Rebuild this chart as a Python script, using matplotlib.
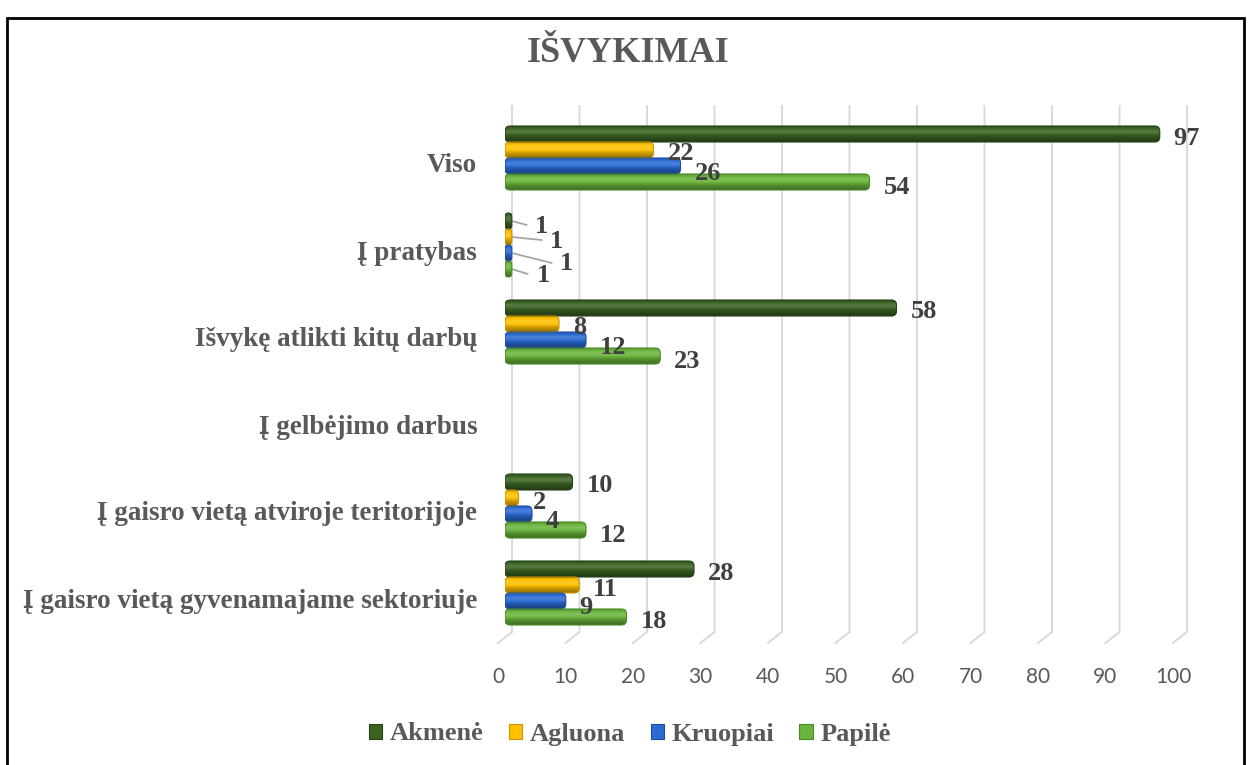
import matplotlib
matplotlib.use("Agg")
import matplotlib.pyplot as plt
import numpy as np
from matplotlib.patches import Rectangle, Patch, FancyBboxPatch
from matplotlib.transforms import ScaledTranslation
from matplotlib.colors import to_rgb

# ---------------- data ----------------
categories = [
    "Į gaisro vietą gyvenamajame sektoriuje",
    "Į gaisro vietą atviroje teritorijoje",
    "Į gelbėjimo darbus",
    "Išvykę atlikti kitų darbų",
    "Į pratybas",
    "Viso",
]
series_names = ["Akmenė", "Agluona", "Kruopiai", "Papilė"]
akmene = [28, 10, 0, 58, 1, 97]
agluona = [11, 2, 0, 8, 1, 22]
kruopiai = [9, 4, 0, 12, 1, 26]
papile = [18, 12, 0, 23, 1, 54]
x_ticks = [0, 10, 20, 30, 40, 50, 60, 70, 80, 90, 100]
title = "IŠVYKIMAI"

# ---------------- style ----------------
series_values = [akmene, agluona, kruopiai, papile]
colors = ["#3a6322", "#ffc000", "#2a6ad2", "#6ab43c"]
edge_colors = ["#25401a", "#c89400", "#1d4c9c", "#4a8a2a"]
SERIF = "Liberation Serif"
GRAY = "#595959"
LABEL_GRAY = "#404040"

fig = plt.figure(figsize=(12.5, 7.65), dpi=100)
W, H = 1250, 765
ax = fig.add_axes([505 / W, 1 - 643 / H, 675 / W, (643 - 106) / H])

px_per_cat = 87.0
px_per_unit = 6.75
ytop = (593 - 106) / px_per_cat
ybot = -(643 - 593) / px_per_cat
yvert = -(632 - 593) / px_per_cat
ax.set_xlim(0, 100)
ax.set_ylim(ybot, ytop)

# pseudo-3D gridlines (back wall + floor slant)
depth = 7 / px_per_unit
for v in x_ticks:
    ax.plot([v + depth, v + depth, v - depth], [ytop, yvert, ybot],
            color="#d9d9d9", lw=1.4, zorder=0, clip_on=False,
            solid_joinstyle="miter")

bar_h = 16 / px_per_cat
offsets = [1.5 * bar_h, 0.5 * bar_h, -0.5 * bar_h, -1.5 * bar_h]
ypos = np.arange(len(categories))


def gradient(base, n=64):
    rgb = np.array(to_rgb(base))
    t = np.linspace(0, 1, n)
    f = 0.82 + 0.35 * np.exp(-((t - 0.35) / 0.25) ** 2) - 0.22 * t ** 3
    out = np.zeros((n, 1, 4))
    for i, fi in enumerate(f):
        if fi >= 1:
            c = rgb + (1 - rgb) * (fi - 1) * 0.9
        else:
            c = rgb * fi
        out[i, 0, :3] = np.clip(c, 0, 1)
        out[i, 0, 3] = 1
    return out


aspect = px_per_unit / px_per_cat
radius_px = 5.0
for s, vals in enumerate(series_values):
    yy = ypos + offsets[s]
    bars = ax.barh(yy, vals, height=bar_h, color=colors[s], edgecolor="none",
                   zorder=2)
    g = gradient(colors[s])
    for b, v in zip(bars, vals):
        b.set_visible(False)
        if v <= 0:
            continue
        x0, y0, w, h = b.get_x(), b.get_y(), b.get_width(), b.get_height()
        r = min(radius_px / px_per_unit, w / 2)
        rb = FancyBboxPatch((x0, y0), w, h,
                            boxstyle=f"round,pad=0,rounding_size={r}",
                            mutation_aspect=aspect, facecolor="none",
                            edgecolor=edge_colors[s], lw=0.8, zorder=4)
        ax.add_patch(rb)
        im = ax.imshow(g, extent=(x0, x0 + w, y0, y0 + h),
                       origin="upper", aspect="auto", zorder=3,
                       interpolation="bicubic")
        im.set_clip_path(rb)

ax.set_xlim(0, 100)
ax.set_ylim(ybot, ytop)

# value labels
label_dy = [-4, -4, -7, -5]  # pixels (negative = downwards)
small_offsets = [(23, -5), (38, -5), (48, -10), (25, -6)]
small_lines = [(15, -4), (30, -3), (40, -10), (16, -5)]
for s, vals in enumerate(series_values):
    for i, v in enumerate(vals):
        if v <= 0:
            continue
        y = ypos[i] + offsets[s]
        if v <= 1:
            dx, dy = small_offsets[s]
            lx, ly = small_lines[s]
            ax.annotate("", xy=(v, y), xycoords="data",
                        xytext=(lx, ly), textcoords="offset pixels",
                        arrowprops=dict(arrowstyle="-", color="#a6a6a6",
                                        lw=1.3, shrinkA=0, shrinkB=0))
            ax.annotate(str(v), xy=(v, y), xytext=(dx, dy),
                        textcoords="offset pixels", ha="left", va="center",
                        fontsize=19, fontweight="bold", family=SERIF,
                        color=LABEL_GRAY, zorder=6)
        else:
            ax.annotate(str(v), xy=(v, y), xytext=(14, label_dy[s]),
                        textcoords="offset pixels", ha="left", va="center",
                        fontsize=19, fontweight="bold", family=SERIF,
                        color=LABEL_GRAY, zorder=6)

# axes styling
for sp in ax.spines.values():
    sp.set_visible(False)
ax.set_yticks(ypos)
ax.set_yticklabels(categories, fontsize=19.5, fontweight="bold", family=SERIF,
                   color=GRAY)
ax.set_xticks(x_ticks)
ax.set_xticklabels([str(v) for v in x_ticks], fontsize=15, family="Lato",
                   color=GRAY)
ax.tick_params(axis="y", length=0, pad=20)
ax.tick_params(axis="x", length=0, pad=17)
shift = ScaledTranslation(-7 / 100, 0, fig.dpi_scale_trans)
for lab in ax.get_xticklabels():
    lab.set_transform(lab.get_transform() + shift)
shift_y = ScaledTranslation(0, -5 / 100, fig.dpi_scale_trans)
for lab in ax.get_yticklabels():
    lab.set_transform(lab.get_transform() + shift_y)
ax.set_facecolor("none")

# title
fig.text(628 / W, 1 - 62 / H, title, ha="center", va="baseline", fontsize=26,
         fontweight="bold", family=SERIF, color=GRAY)

# legend
handles = [Patch(facecolor=c, edgecolor=e, lw=0.8)
           for c, e in zip(colors, edge_colors)]
leg = fig.legend(handles, series_names, loc="center", ncol=4,
                 bbox_to_anchor=(630 / W, 1 - 734 / H), frameon=False,
                 prop=dict(family=SERIF, weight="bold", size=19),
                 handlelength=0.5, handleheight=0.5, handletextpad=0.3,
                 columnspacing=0.95, borderaxespad=0)
for t in leg.get_texts():
    t.set_color(GRAY)

# outer border
fig.patches.append(Rectangle((6.5 / W, -0.02), (1244 - 6.5) / W,
                             1 - 17.5 / H + 0.02, transform=fig.transFigure,
                             fill=False, edgecolor="black", lw=2.0))

fig.savefig("out.png", dpi=100)
